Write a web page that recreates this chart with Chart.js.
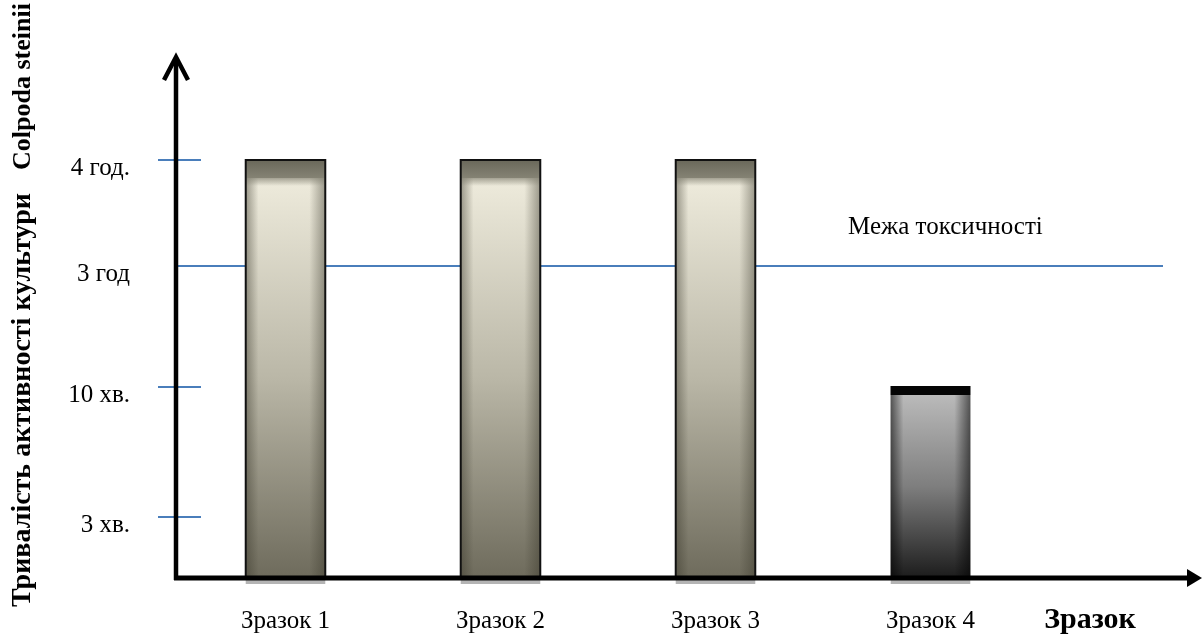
<!DOCTYPE html>
<html>
<head>
<meta charset="utf-8">
<script src="https://cdn.jsdelivr.net/npm/chart.js@4.4.0/dist/chart.umd.min.js"></script>
<style>
  html, body { margin:0; padding:0; background:#fff; }
  #wrap { width:1202px; height:635px; }
</style>
</head>
<body>
<div id="wrap"><canvas id="chart" width="1202" height="635"></canvas></div>
<script>
// ================= DATA ==================
const SAMPLES = ["Зразок 1", "Зразок 2", "Зразок 3", "Зразок 4"];
const LEVEL_LABELS = ["3 хв.", "10 хв.", "3 год", "4 год."];
const LEVEL_VALUES = [0.61, 1.91, 3.12, 4.18];   // position of each level on the axis
const ACTIVITY = [4.18, 4.18, 4.18, 1.92];       // how long the culture stayed active
const TOXIC_LIMIT = 3.12;                        // = "3 год"
const TOXIC_LABEL = "Межа токсичності";
const Y_TITLE_UA = "Тривалість активності культури";
const Y_TITLE_LAT = "Colpoda steinii";
const X_TITLE = "Зразок";

// ================= STYLE ==================
const SERIF = "'Liberation Serif', 'Times New Roman', serif";
const BLUE = "#4a7ebb";

// ============== PLUGIN: axes, ticks, limit line, bar shading ==============
const decor = {
  id: "decor",
  beforeDatasetsDraw(chart){
    const { ctx, chartArea: a, scales: { y } } = chart;
    const axisX = a.left - 2;
    ctx.save();
    // toxicity limit line
    const ly = Math.round(y.getPixelForValue(TOXIC_LIMIT));
    ctx.strokeStyle = BLUE; ctx.lineWidth = 2;
    ctx.beginPath(); ctx.moveTo(axisX, ly); ctx.lineTo(a.right + 125, ly); ctx.stroke();
    // short ticks
    LEVEL_VALUES.forEach(v => {
      if (v === TOXIC_LIMIT) return;
      const ty = Math.round(y.getPixelForValue(v));
      ctx.beginPath(); ctx.moveTo(axisX - 18, ty); ctx.lineTo(axisX + 25, ty); ctx.stroke();
    });
    // label of the limit line
    ctx.fillStyle = "#000";
    ctx.font = "25px " + SERIF;
    ctx.textAlign = "left"; ctx.textBaseline = "alphabetic";
    ctx.fillText(TOXIC_LABEL, 848, ly - 32);
    ctx.restore();
  },
  afterDatasetsDraw(chart){
    const { ctx, chartArea: a } = chart;
    const meta = chart.getDatasetMeta(0);
    ctx.save();
    meta.data.forEach((bar, i) => {
      const { x, y, base, width } = bar.getProps(["x", "y", "base", "width"], true);
      const l = x - width / 2, r = x + width / 2, w = width;
      const dark = i === 3;
      const band = dark ? 9 : 18;

      // body
      const g = ctx.createLinearGradient(0, y + band, 0, base);
      if (dark){
        g.addColorStop(0, "#bababa"); g.addColorStop(0.5, "#7e7e7e"); g.addColorStop(1, "#1c1c1c");
      } else {
        g.addColorStop(0, "#eeebdc"); g.addColorStop(0.5, "#bab7a7"); g.addColorStop(1, "#6e6b5c");
      }
      ctx.fillStyle = g;
      ctx.fillRect(l, y, w, base - y);

      // side shading
      const h = ctx.createLinearGradient(l, 0, r, 0);
      const edge = dark ? "rgba(0,0,0,0.55)" : "rgba(55,53,40,0.45)";
      const none = dark ? "rgba(0,0,0,0)" : "rgba(55,53,40,0)";
      h.addColorStop(0, edge); h.addColorStop(0.16, none);
      h.addColorStop(0.8, none); h.addColorStop(1, edge);
      ctx.fillStyle = h;
      ctx.fillRect(l, y, w, base - y);

      // top band
      if (dark){
        ctx.fillStyle = "#050505";
        ctx.fillRect(l, y, w, band);
      } else {
        const t = ctx.createLinearGradient(0, y, 0, y + band);
        t.addColorStop(0, "#6a685a"); t.addColorStop(1, "#858374");
        ctx.fillStyle = t;
        ctx.fillRect(l, y, w, band);
        const f = ctx.createLinearGradient(0, y + band, 0, y + band + 8);
        f.addColorStop(0, "rgba(133,131,116,0.7)"); f.addColorStop(1, "rgba(133,131,116,0)");
        ctx.fillStyle = f;
        ctx.fillRect(l, y + band, w, 8);
        // outline
        ctx.strokeStyle = "#111"; ctx.lineWidth = 2;
        ctx.beginPath();
        ctx.moveTo(l, base); ctx.lineTo(l, y); ctx.lineTo(r, y); ctx.lineTo(r, base);
        ctx.stroke();
      }
      // grey strip under the bar
      ctx.fillStyle = "#b4b4b4";
      ctx.fillRect(l, base + 1, w, 5);
    });

    // axes with arrows
    const axisX = a.left - 2, axisY = a.bottom;
    ctx.strokeStyle = "#000"; ctx.fillStyle = "#000";
    ctx.lineWidth = 4.5; ctx.lineCap = "butt";
    ctx.beginPath(); ctx.moveTo(axisX, axisY + 2); ctx.lineTo(axisX, a.top + 4); ctx.stroke();
    ctx.lineWidth = 4.5; ctx.lineJoin = "miter";
    ctx.beginPath();
    ctx.moveTo(axisX - 12, a.top + 25); ctx.lineTo(axisX, a.top + 2); ctx.lineTo(axisX + 12, a.top + 25);
    ctx.stroke();
    ctx.lineWidth = 5;
    ctx.beginPath(); ctx.moveTo(axisX - 2, axisY); ctx.lineTo(1190, axisY); ctx.stroke();
    ctx.beginPath();
    ctx.moveTo(1202, axisY); ctx.lineTo(1187, axisY - 9); ctx.lineTo(1187, axisY + 9); ctx.closePath();
    ctx.fill();

    // x title
    ctx.font = "bold 30px " + SERIF;
    ctx.textAlign = "center"; ctx.textBaseline = "middle";
    ctx.fillText(X_TITLE, 1090, 620);

    // y title (two parts)
    ctx.textAlign = "left";
    ctx.save();
    ctx.font = "bold 28px " + SERIF;
    ctx.translate(23, 607); ctx.rotate(-Math.PI / 2);
    ctx.fillText(Y_TITLE_UA, 0, 0);
    ctx.restore();
    ctx.save();
    ctx.font = "bold 26px " + SERIF;
    ctx.translate(23, 170); ctx.rotate(-Math.PI / 2);
    ctx.fillText(Y_TITLE_LAT, 0, 0);
    ctx.restore();
    ctx.restore();
  }
};

// ============== CHART ==============
new Chart(document.getElementById("chart").getContext("2d"), {
  type: "bar",
  data: {
    labels: SAMPLES,
    datasets: [{
      data: ACTIVITY,
      backgroundColor: ["#b5b2a2", "#b5b2a2", "#b5b2a2", "#777777"],
      borderWidth: 0,
      barPercentage: 0.37,
      categoryPercentage: 1
    }]
  },
  options: {
    responsive: false,
    devicePixelRatio: 1,
    animation: false,
    layout: { padding: { top: 55, right: 164, left: 0, bottom: 0 } },
    plugins: { legend: { display: false }, tooltip: { enabled: false } },
    scales: {
      x: {
        grid: { display: false, drawTicks: false },
        border: { display: false },
        ticks: { color: "#000", font: { family: SERIF, size: 25 }, padding: 28, maxRotation: 0 },
        afterFit: s => { s.height = 57; s.paddingLeft = 0; s.paddingRight = 0; }
      },
      y: {
        min: 0, max: 5.23,
        grid: { display: false, drawTicks: false },
        border: { display: false },
        afterBuildTicks: s => { s.ticks = LEVEL_VALUES.map(v => ({ value: v })); },
        ticks: {
          color: "#000", font: { family: SERIF, size: 25 }, padding: 48, labelOffset: 8,
          callback: (v, i) => LEVEL_LABELS[i]
        },
        afterFit: s => { s.width = 178; s.paddingTop = 0; s.paddingBottom = 0; }
      }
    }
  },
  plugins: [decor]
});
</script>
</body>
</html>
